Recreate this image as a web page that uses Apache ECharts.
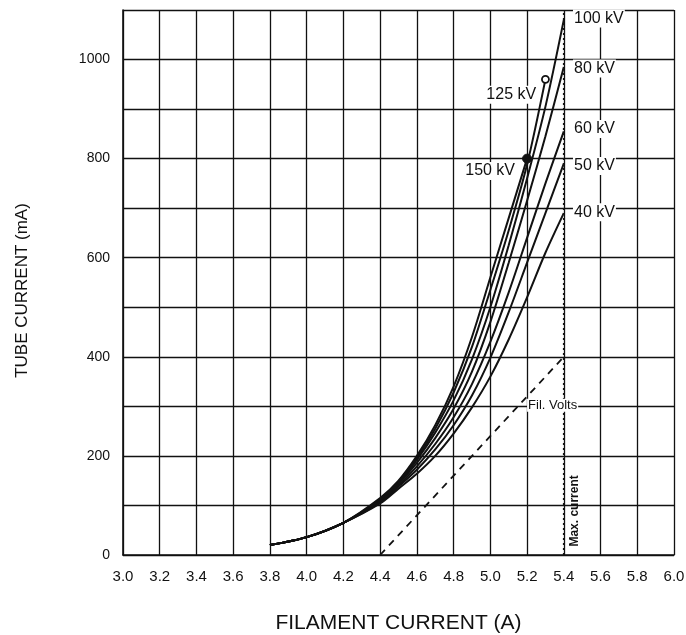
<!DOCTYPE html>
<html>
<head>
<meta charset="utf-8">
<script src="https://cdn.jsdelivr.net/npm/echarts@6/dist/echarts.min.js"></script>
<style>
html,body{margin:0;padding:0;background:#fff;}
#c{width:686px;height:635px;}
</style>
</head>
<body>
<div id="c"></div>
<script>
// Filament current (A) vs tube current (mA)
var kv150 = [[3.8,20],[4.0,36],[4.2,65],[4.4,115],[4.5,150],[4.6,200],[4.7,262],[4.8,340],[4.9,440],[5.0,560],[5.1,680],[5.2,800]];
var kv125 = [[3.8,20],[4.0,36],[4.2,65],[4.4,113],[4.5,148],[4.6,196],[4.7,255],[4.8,328],[4.9,420],[5.0,535],[5.1,655],[5.2,788],[5.3,960]];
var kv100 = [[3.8,20],[4.0,36],[4.2,65],[4.4,111],[4.5,146],[4.6,192],[4.7,247],[4.8,312],[4.9,395],[5.0,500],[5.1,625],[5.2,760],[5.3,905],[5.4,1080]];
var kv80  = [[3.8,20],[4.0,36],[4.2,65],[4.4,110],[4.5,144],[4.6,186],[4.7,236],[4.8,295],[4.9,370],[5.0,470],[5.1,590],[5.2,715],[5.3,845],[5.4,985]];
var kv60  = [[3.8,20],[4.0,36],[4.2,65],[4.4,108],[4.5,141],[4.6,179],[4.7,224],[4.8,278],[4.9,345],[5.0,430],[5.1,530],[5.2,640],[5.3,750],[5.4,855]];
var kv50  = [[3.8,20],[4.0,36],[4.2,65],[4.4,106],[4.5,138],[4.6,172],[4.7,213],[4.8,262],[4.9,322],[5.0,398],[5.1,490],[5.2,590],[5.3,690],[5.4,790]];
var kv40  = [[3.8,20],[4.0,36],[4.2,65],[4.4,104],[4.5,134],[4.6,164],[4.7,200],[4.8,245],[4.9,298],[5.0,360],[5.1,435],[5.2,520],[5.3,610],[5.4,690]];
var filVolts = [[4.4,0],[5.4,400]];
var maxCurrent = [[5.4,0],[5.4,1100]];
var endMarks150 = [[5.2,800]];
var endMarks125 = [[5.3,960]];

// curve labels: [x, y, text, align]
var curveLabels = [
  [5.45,1083,'100 kV','left'],
  [5.45,982,'80 kV','left'],
  [5.45,860,'60 kV','left'],
  [5.45,785,'50 kV','left'],
  [5.45,692,'40 kV','left'],
  [5.255,929,'125 kV','right'],
  [5.14,775,'150 kV','right']
];
var noteFil = [[5.2,302,'Fil. Volts']];
var noteMax = [[5.46,89,'Max. current']];

var FONT = '"Liberation Sans", Arial, Helvetica, sans-serif';
var chart = echarts.init(document.getElementById('c'), null, {renderer:'canvas'});

function curve(d){
  return {type:'line', data:d, smooth:0.3, showSymbol:false, symbol:'none',
    lineStyle:{color:'#111', width:2}, z:5, silent:true};
}

var option = {
  animation:false,
  backgroundColor:'#fff',
  grid:{left:123, right:12, top:10, bottom:80, show:false, containLabel:false, outerBoundsMode:'none'},
  xAxis:{
    type:'value', min:3.0, max:6.0, interval:0.2,
    name:'FILAMENT CURRENT (A)', nameLocation:'middle', nameGap:58,
    nameTextStyle:{fontFamily:FONT, fontSize:21, color:'#111'},
    axisLine:{show:true, lineStyle:{color:'#111', width:1.6}},
    axisTick:{show:false},
    axisLabel:{fontFamily:FONT, fontSize:15, color:'#111', margin:14,
      formatter:function(v){return v.toFixed(1);}},
    splitLine:{show:true, lineStyle:{color:'#111', width:1.3}}
  },
  yAxis:{
    type:'value', min:0, max:1100, interval:100,
    name:'TUBE CURRENT (mA)', nameLocation:'middle', nameGap:92,
    nameTextStyle:{fontFamily:FONT, fontSize:17, color:'#111', padding:[0,0,0,-16]},
    axisLine:{show:true, lineStyle:{color:'#111', width:1.6}},
    axisTick:{show:false},
    axisLabel:{fontFamily:FONT, fontSize:14, color:'#111', margin:13,
      formatter:function(v){return (v % 200 === 0) ? String(v) : '';}},
    splitLine:{show:true, lineStyle:{color:'#111', width:1.3}}
  },
  series:[
    curve(kv150), curve(kv125), curve(kv100), curve(kv80), curve(kv60), curve(kv50), curve(kv40),
    {type:'line', data:filVolts, showSymbol:false, symbol:'none', z:4,
      lineStyle:{color:'#111', width:1.8, type:[7,6]}},
    {type:'line', data:maxCurrent, showSymbol:false, symbol:'none', z:4,
      lineStyle:{color:'#111', width:1.8, type:[2,3]}},
    {type:'scatter', data:endMarks150, symbol:'circle', symbolSize:9, z:7,
      itemStyle:{color:'#111', borderColor:'#111', borderWidth:1, opacity:1}},
    {type:'scatter', data:endMarks125, symbol:'circle', symbolSize:7, z:7,
      itemStyle:{color:'#fff', borderColor:'#111', borderWidth:1.8, opacity:1}},
    {type:'scatter', z:8, symbolSize:0, itemStyle:{opacity:1},
      data:curveLabels.map(function(l){
        return {value:[l[0],l[1]], name:l[2],
          label:{align:l[3], verticalAlign:'middle', position:'inside'}};
      }),
      label:{show:true, formatter:function(p){return p.name;}, fontFamily:FONT, fontSize:16, color:'#111',
        backgroundColor:'#fff', padding:[1,1], position:'inside'}
    },
    {type:'scatter', z:8, symbolSize:0, itemStyle:{opacity:1},
      data:noteFil.map(function(l){return {value:[l[0],l[1]], name:l[2]};}),
      label:{show:true, formatter:function(p){return p.name;}, fontFamily:FONT, fontSize:13, color:'#111',
        backgroundColor:'#fff', padding:[0,1], position:'right', distance:0}
    },
    {type:'scatter', z:8, symbolSize:0, itemStyle:{opacity:1},
      data:noteMax.map(function(l){return {value:[l[0],l[1]], name:l[2]};}),
      label:{show:true, formatter:function(p){return p.name;}, fontFamily:FONT, fontSize:12, fontWeight:'bold', color:'#111',
        rotate:90, position:'inside', align:'center', verticalAlign:'middle'}
    }
  ]
};
chart.setOption(option);
</script>
</body>
</html>
